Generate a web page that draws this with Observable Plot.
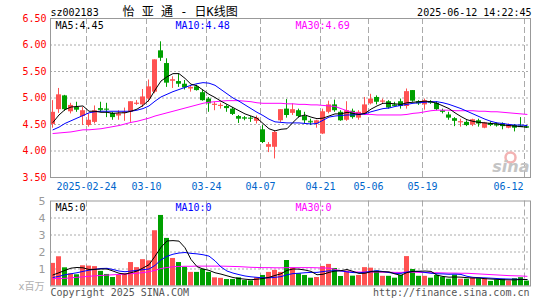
<!DOCTYPE html>
<html><head><meta charset="utf-8">
<script src="https://cdn.jsdelivr.net/npm/d3@7"></script>
<script src="https://cdn.jsdelivr.net/npm/@observablehq/plot@0.6"></script>
<style>
body{margin:0;background:#fff;}
#chart{position:relative;width:545px;height:300px;overflow:hidden;background:#fff}
#chart svg{display:block}
</style></head><body><div id="chart"></div>
<script>
const dates = ["2025-02-14","2025-02-17","2025-02-18","2025-02-19","2025-02-20","2025-02-21","2025-02-24","2025-02-25","2025-02-26","2025-02-27","2025-02-28",
"2025-03-03","2025-03-04","2025-03-05","2025-03-06","2025-03-07","2025-03-10","2025-03-11","2025-03-12","2025-03-13","2025-03-14","2025-03-17","2025-03-18","2025-03-19","2025-03-20","2025-03-21","2025-03-24","2025-03-25","2025-03-26","2025-03-27","2025-03-28","2025-03-31",
"2025-04-01","2025-04-02","2025-04-03","2025-04-07","2025-04-08","2025-04-09","2025-04-10","2025-04-11","2025-04-14","2025-04-15","2025-04-16","2025-04-17","2025-04-18","2025-04-21","2025-04-22","2025-04-23","2025-04-24","2025-04-25","2025-04-28","2025-04-29","2025-04-30",
"2025-05-06","2025-05-07","2025-05-08","2025-05-09","2025-05-12","2025-05-13","2025-05-14","2025-05-15","2025-05-16","2025-05-19","2025-05-20","2025-05-21","2025-05-22","2025-05-23","2025-05-26","2025-05-27","2025-05-28","2025-05-29","2025-05-30",
"2025-06-03","2025-06-04","2025-06-05","2025-06-06","2025-06-09","2025-06-10","2025-06-11","2025-06-12"];

const open  = [4.50,4.78,5.04,4.74,4.82,4.65,4.48,4.54,4.80,4.79,4.71,4.66,4.72,4.73,4.89,4.87,4.98,5.11,5.89,5.65,
               5.32,5.31,5.26,5.17,5.21,5.10,4.98,4.87,4.85,4.84,4.79,4.65,4.63,4.62,4.56,4.40,4.07,4.07,4.57,4.79,
               4.71,4.76,4.65,4.56,4.51,4.32,4.73,4.87,4.73,4.58,4.75,4.62,4.70,4.89,5.01,4.93,4.93,4.87,4.93,4.84,
               5.14,4.93,4.87,4.93,4.90,4.76,4.68,4.61,4.54,4.54,4.49,4.57,4.43,4.52,4.51,4.51,4.43,4.48,4.47,4.46];
const high  = [4.95,5.18,5.05,4.90,4.92,4.82,4.70,4.85,4.92,4.90,4.73,4.76,4.81,4.93,4.95,5.16,5.34,5.72,6.06,5.74,
               5.40,5.45,5.33,5.23,5.24,5.15,5.01,4.92,4.90,4.87,4.82,4.67,4.65,4.65,4.66,4.48,4.16,4.38,4.78,4.97,
               4.89,4.79,4.73,4.60,4.58,4.79,4.94,4.96,4.76,4.93,4.79,4.76,5.01,5.07,5.04,4.98,4.95,4.92,4.98,5.17,
               5.14,4.95,4.98,4.95,4.93,4.79,4.73,4.63,4.60,4.57,4.60,4.60,4.54,4.55,4.53,4.53,4.51,4.50,4.63,4.48];
const low   = [4.43,4.71,4.75,4.70,4.73,4.48,4.45,4.51,4.73,4.63,4.58,4.58,4.56,4.54,4.86,4.82,4.92,5.08,5.69,5.20,
               5.18,5.20,5.15,5.11,5.13,4.94,4.73,4.76,4.79,4.73,4.67,4.52,4.57,4.54,4.51,4.14,3.97,3.85,4.54,4.62,
               4.67,4.62,4.51,4.48,4.43,4.31,4.70,4.73,4.56,4.56,4.60,4.58,4.67,4.87,4.87,4.89,4.79,4.84,4.79,4.79,
               4.92,4.86,4.77,4.88,4.76,4.70,4.58,4.46,4.45,4.46,4.46,4.45,4.42,4.46,4.45,4.40,4.42,4.36,4.45,4.43];
const close = [4.73,5.06,4.78,4.86,4.77,4.76,4.58,4.76,4.78,4.77,4.63,4.70,4.73,4.93,4.90,5.02,5.21,5.72,5.75,5.28,
               5.34,5.26,5.19,5.20,5.14,4.95,4.89,4.88,4.86,4.80,4.69,4.60,4.62,4.60,4.62,4.16,4.12,4.35,4.78,4.67,
               4.78,4.65,4.57,4.55,4.57,4.74,4.87,4.76,4.57,4.76,4.63,4.73,4.87,4.98,4.92,4.94,4.81,4.86,4.84,5.12,
               4.94,4.89,4.95,4.92,4.78,4.73,4.62,4.56,4.55,4.48,4.59,4.51,4.53,4.50,4.49,4.46,4.49,4.43,4.46,4.45];

const ma5  = [4.54,4.68,4.78,4.83,4.84,4.85,4.75,4.75,4.73,4.73,4.71,4.72,4.72,4.75,4.79,4.86,4.96,5.15,5.32,5.40,
              5.46,5.46,5.37,5.26,5.23,5.15,5.07,5.01,4.94,4.88,4.82,4.76,4.70,4.66,4.62,4.52,4.42,4.38,4.41,4.42,
              4.54,4.65,4.68,4.64,4.61,4.62,4.66,4.70,4.70,4.73,4.71,4.69,4.71,4.79,4.85,4.90,4.90,4.89,4.88,4.91,
              4.92,4.93,4.94,4.93,4.90,4.85,4.80,4.72,4.65,4.59,4.56,4.54,4.53,4.52,4.51,4.49,4.48,4.47,4.46,4.45];
const ma10 = [4.40,4.45,4.52,4.57,4.62,4.67,4.72,4.74,4.75,4.75,4.75,4.75,4.75,4.75,4.77,4.80,4.85,4.94,5.02,5.07,
              5.12,5.16,5.20,5.24,5.27,5.29,5.28,5.24,5.16,5.08,5.00,4.94,4.87,4.80,4.73,4.67,4.60,4.55,4.54,4.53,
              4.53,4.53,4.52,4.51,4.52,4.58,4.64,4.66,4.67,4.68,4.68,4.69,4.70,4.74,4.77,4.80,4.81,4.84,4.86,4.88,
              4.90,4.91,4.92,4.93,4.93,4.91,4.88,4.84,4.80,4.75,4.70,4.65,4.60,4.56,4.53,4.52,4.50,4.49,4.49,4.48];
const ma30 = [4.33,4.34,4.35,4.36,4.38,4.40,4.40,4.41,4.42,4.44,4.46,4.48,4.51,4.54,4.56,4.59,4.62,4.66,4.69,4.72,
              4.75,4.78,4.81,4.84,4.87,4.90,4.92,4.93,4.94,4.95,4.95,4.95,4.94,4.93,4.91,4.90,4.90,4.90,4.90,4.89,
              4.89,4.88,4.88,4.87,4.87,4.86,4.85,4.84,4.80,4.76,4.73,4.71,4.69,4.69,4.68,4.68,4.68,4.68,4.68,4.69,
              4.71,4.72,4.74,4.76,4.77,4.77,4.77,4.76,4.76,4.76,4.76,4.75,4.75,4.74,4.74,4.73,4.72,4.71,4.70,4.69];

const volume = [1.33,1.72,1.07,0.72,0.66,1.19,1.17,1.14,0.86,0.68,0.50,0.62,0.72,1.38,1.08,1.55,1.48,3.25,4.15,2.80,
                1.62,1.38,1.10,0.80,0.80,0.98,0.80,0.48,0.45,0.38,0.38,0.48,0.32,0.30,0.48,0.62,0.80,0.92,0.80,1.50,
                1.05,0.72,0.62,0.46,0.50,1.15,1.27,1.03,0.56,0.88,0.58,0.62,1.08,1.05,0.88,0.57,0.57,0.46,0.62,1.73,
                0.97,0.57,0.57,0.46,0.62,0.52,0.40,0.64,0.40,0.40,0.46,0.43,0.43,0.27,0.35,0.39,0.29,0.43,0.49,0.29];
const volMa5  = [0.65,0.78,0.92,1.05,1.09,1.07,0.97,0.98,1.00,1.00,0.88,0.75,0.70,0.78,0.88,1.06,1.25,1.75,2.28,2.65,
                 2.67,2.64,2.25,1.56,1.14,1.00,0.92,0.78,0.70,0.60,0.50,0.44,0.40,0.37,0.40,0.44,0.51,0.62,0.72,0.92,
                 1.00,0.99,0.94,0.86,0.66,0.69,0.80,0.88,0.90,0.97,0.86,0.74,0.75,0.84,0.84,0.84,0.83,0.71,0.63,0.79,
                 0.86,0.87,0.88,0.86,0.64,0.56,0.52,0.53,0.52,0.49,0.47,0.47,0.43,0.41,0.39,0.37,0.36,0.36,0.39,0.38];
const volMa10 = [0.50,0.57,0.66,0.72,0.78,0.86,0.93,0.98,1.03,1.04,0.97,0.88,0.84,0.88,0.92,0.96,1.00,1.21,1.54,1.75,
                 1.87,1.94,1.97,1.92,1.89,1.84,1.76,1.48,1.12,0.88,0.76,0.67,0.59,0.54,0.51,0.48,0.48,0.51,0.55,0.66,
                 0.73,0.75,0.78,0.80,0.80,0.85,0.89,0.90,0.89,0.83,0.79,0.78,0.81,0.86,0.90,0.85,0.79,0.74,0.74,0.82,
                 0.86,0.85,0.80,0.75,0.72,0.71,0.69,0.70,0.68,0.57,0.51,0.49,0.48,0.46,0.44,0.42,0.41,0.40,0.39,0.38];
const volMa30 = [0.43,0.44,0.45,0.48,0.51,0.54,0.57,0.60,0.62,0.64,0.66,0.68,0.70,0.72,0.75,0.79,0.84,0.92,1.03,1.09,
                 1.13,1.15,1.16,1.16,1.17,1.17,1.17,1.17,1.17,1.16,1.15,1.14,1.12,1.10,1.09,1.08,1.08,1.07,1.07,1.08,
                 1.08,1.08,1.08,1.08,1.07,1.06,1.05,0.98,0.88,0.84,0.83,0.82,0.82,0.82,0.82,0.81,0.81,0.80,0.80,0.82,
                 0.81,0.80,0.79,0.78,0.78,0.77,0.76,0.76,0.75,0.75,0.73,0.71,0.69,0.67,0.65,0.63,0.61,0.60,0.59,0.57];

const tickDates  = ["2025-02-24","2025-03-10","2025-03-24","2025-04-07","2025-04-21","2025-05-06","2025-05-19","2025-06-12"];
const tickLabels = ["2025-02-24","03-10","03-24","04-07","04-21","05-06","05-19","06-12"];
const priceTicks = [3.5,4.0,4.5,5.0,5.5,6.0,6.5];
const volTicks = [1,2,3,4,5];

const stockCode = "sz002183";
const chartTitle = "怡 亚 通 - 日K线图";
const stamp = "2025-06-12 14:22:45";
const lastMA = {ma5: "4.45", ma10: "4.48", ma30: "4.69"};

// ---- derived
const rows = dates.map((date, i) => ({i, date, open: open[i], high: high[i], low: low[i], close: close[i], volume: volume[i], up: close[i] >= open[i]}));
const upRows = rows.filter(d => d.up), downRows = rows.filter(d => !d.up);
const tickIdx = tickDates.map(d => dates.indexOf(d));
const UP = "#ff5252", DOWN = "#00a000";
const BW = 5/6;       // body width (day units)
const WK = 2/6;       // wick offset
const MC = 2.5/6;     // line centre
const mono = "DejaVu Sans Mono, Liberation Mono, monospace";
const grid = "#aaaaaa";
const toLine = arr => arr.map((v, i) => ({i, v}));

function candles(data, color) {
  return [
    Plot.ruleX(data, {x: d => d.i + WK, y1: "low", y2: "high", stroke: color}),
    Plot.rect(data, {x1: "i", x2: d => d.i + BW, y1: "open", y2: "close", fill: color}),
    Plot.ruleY(data.filter(d => Math.abs(d.close - d.open) <= 0.02), {x1: "i", x2: d => d.i + BW, y: "close", stroke: color})
  ];
}

const price = Plot.plot({
  width: 545, height: 195,
  marginLeft: 50, marginRight: 15, marginTop: 18, marginBottom: 18,
  x: {domain: [0, 80], axis: null},
  y: {domain: [3.5, 6.5], axis: null},
  style: {fontFamily: mono, fontSize: "10px", background: "#fff", overflow: "visible"},
  marks: [
    Plot.ruleY(priceTicks.slice(1, -1), {stroke: grid, strokeDasharray: "2,2"}),
    Plot.ruleX(tickIdx, {stroke: grid, strokeDasharray: "6,3"}),
    Plot.dot([0], {frameAnchor: "bottom-right", dx: -20, dy: -20, r: 5, stroke: "#f3b3b3", strokeWidth: 2.5, fill: "none"}),
    Plot.text(["sina"], {frameAnchor: "bottom-right", dx: -1, dy: -6, textAnchor: "end", lineAnchor: "bottom", fontSize: 16, fontWeight: "bold", fontStyle: "italic", fontFamily: "DejaVu Sans", fill: "#c4c4c4"}),
    ...candles(upRows, UP),
    ...candles(downRows, DOWN),
    Plot.line(toLine(ma30), {x: d => d.i + MC, y: "v", stroke: "#ff00ff", strokeWidth: 1}),
    Plot.line(toLine(ma10), {x: d => d.i + MC, y: "v", stroke: "#0000ff", strokeWidth: 1}),
    Plot.line(toLine(ma5), {x: d => d.i + MC, y: "v", stroke: "#000000", strokeWidth: 1}),
    Plot.frame({stroke: "#999"}),
    Plot.text(priceTicks, {y: d => d, frameAnchor: "left", dx: -4, textAnchor: "end", text: d => d3.format(".2f")(d), fill: "#ff0000", fontSize: 10}),
    Plot.text(tickIdx.slice(0, -1), {x: d => d, text: (d, i) => tickLabels[i], frameAnchor: "bottom", dy: 12.5, lineAnchor: "bottom", fill: "#0066cc", fontSize: 10}),
    Plot.text(tickIdx.slice(-1), {x: d => d, text: () => tickLabels[tickLabels.length - 1], frameAnchor: "bottom", dy: 12.5, dx: -1, textAnchor: "end", lineAnchor: "bottom", fill: "#0066cc", fontSize: 10}),
    Plot.text([stockCode], {frameAnchor: "top-left", dx: 0, dy: -2.5, textAnchor: "start", lineAnchor: "bottom", fill: "#000", fontSize: 10}),
    Plot.text([chartTitle], {frameAnchor: "top-left", dx: 72, dy: -2.5, textAnchor: "start", lineAnchor: "bottom", fill: "#000", fontSize: 12, fontFamily: "DejaVu Sans Mono, Noto Sans CJK SC"}),
    Plot.text([stamp], {frameAnchor: "top-right", dx: 1, dy: -2.5, textAnchor: "end", lineAnchor: "bottom", fill: "#000", fontSize: 10}),
    Plot.text(["MA5:" + lastMA.ma5], {frameAnchor: "top-left", dx: 5, dy: 10.5, textAnchor: "start", lineAnchor: "bottom", fill: "#000", fontSize: 10}),
    Plot.text(["MA10:" + lastMA.ma10], {frameAnchor: "top-left", dx: 125, dy: 10.5, textAnchor: "start", lineAnchor: "bottom", fill: "#0000ff", fontSize: 10}),
    Plot.text(["MA30:" + lastMA.ma30], {frameAnchor: "top-left", dx: 245, dy: 10.5, textAnchor: "start", lineAnchor: "bottom", fill: "#ff00ff", fontSize: 10})
  ]
});

const vol = Plot.plot({
  width: 545, height: 105,
  marginLeft: 50, marginRight: 15, marginTop: 5.5, marginBottom: 14.5,
  x: {domain: [0, 80], axis: null},
  y: {domain: [0, 5], axis: null},
  style: {fontFamily: mono, fontSize: "10px", background: "#fff", overflow: "visible"},
  marks: [
    Plot.ruleY(volTicks.slice(0, -1), {stroke: grid, strokeDasharray: "2,2"}),
    Plot.ruleX(tickIdx, {stroke: grid, strokeDasharray: "6,3"}),
    Plot.rect(upRows, {x1: "i", x2: d => d.i + BW, y1: 0, y2: "volume", fill: UP}),
    Plot.rect(downRows, {x1: "i", x2: d => d.i + BW, y1: 0, y2: "volume", fill: DOWN}),
    Plot.line(toLine(volMa30), {x: d => d.i + MC, y: "v", stroke: "#ff00ff", strokeWidth: 1}),
    Plot.line(toLine(volMa10), {x: d => d.i + MC, y: "v", stroke: "#0000ff", strokeWidth: 1}),
    Plot.line(toLine(volMa5), {x: d => d.i + MC, y: "v", stroke: "#000000", strokeWidth: 1}),
    Plot.frame({stroke: "#999"}),
    Plot.text(volTicks, {y: d => d, frameAnchor: "left", dx: -5, textAnchor: "end", text: d => String(d), fill: "#999", fontSize: 11, fontFamily: "DejaVu Sans"}),
    Plot.text(["x百万"], {frameAnchor: "bottom-left", dx: -6, dy: 0.5, textAnchor: "end", lineAnchor: "middle", fill: "#b0b0b0", fontSize: 10, fontFamily: "DejaVu Sans, Noto Sans CJK SC"}),
    Plot.text(["MA5:0"], {frameAnchor: "top-left", dx: 5, dy: 9.5, textAnchor: "start", lineAnchor: "bottom", fill: "#000", fontSize: 10}),
    Plot.text(["MA10:0"], {frameAnchor: "top-left", dx: 125, dy: 9.5, textAnchor: "start", lineAnchor: "bottom", fill: "#0000ff", fontSize: 10}),
    Plot.text(["MA30:0"], {frameAnchor: "top-left", dx: 245, dy: 9.5, textAnchor: "start", lineAnchor: "bottom", fill: "#ff00ff", fontSize: 10}),
    Plot.text(["Copyright 2025 SINA.COM"], {frameAnchor: "bottom-left", dx: 0, dy: 10, textAnchor: "start", lineAnchor: "bottom", fill: "#555", fontSize: 10}),
    Plot.text(["http://finance.sina.com.cn"], {frameAnchor: "bottom-right", dx: -1, dy: 10, textAnchor: "end", lineAnchor: "bottom", fill: "#555", fontSize: 10})
  ]
});

const root = document.getElementById("chart");
root.appendChild(price);
root.appendChild(vol);
</script></body></html>
